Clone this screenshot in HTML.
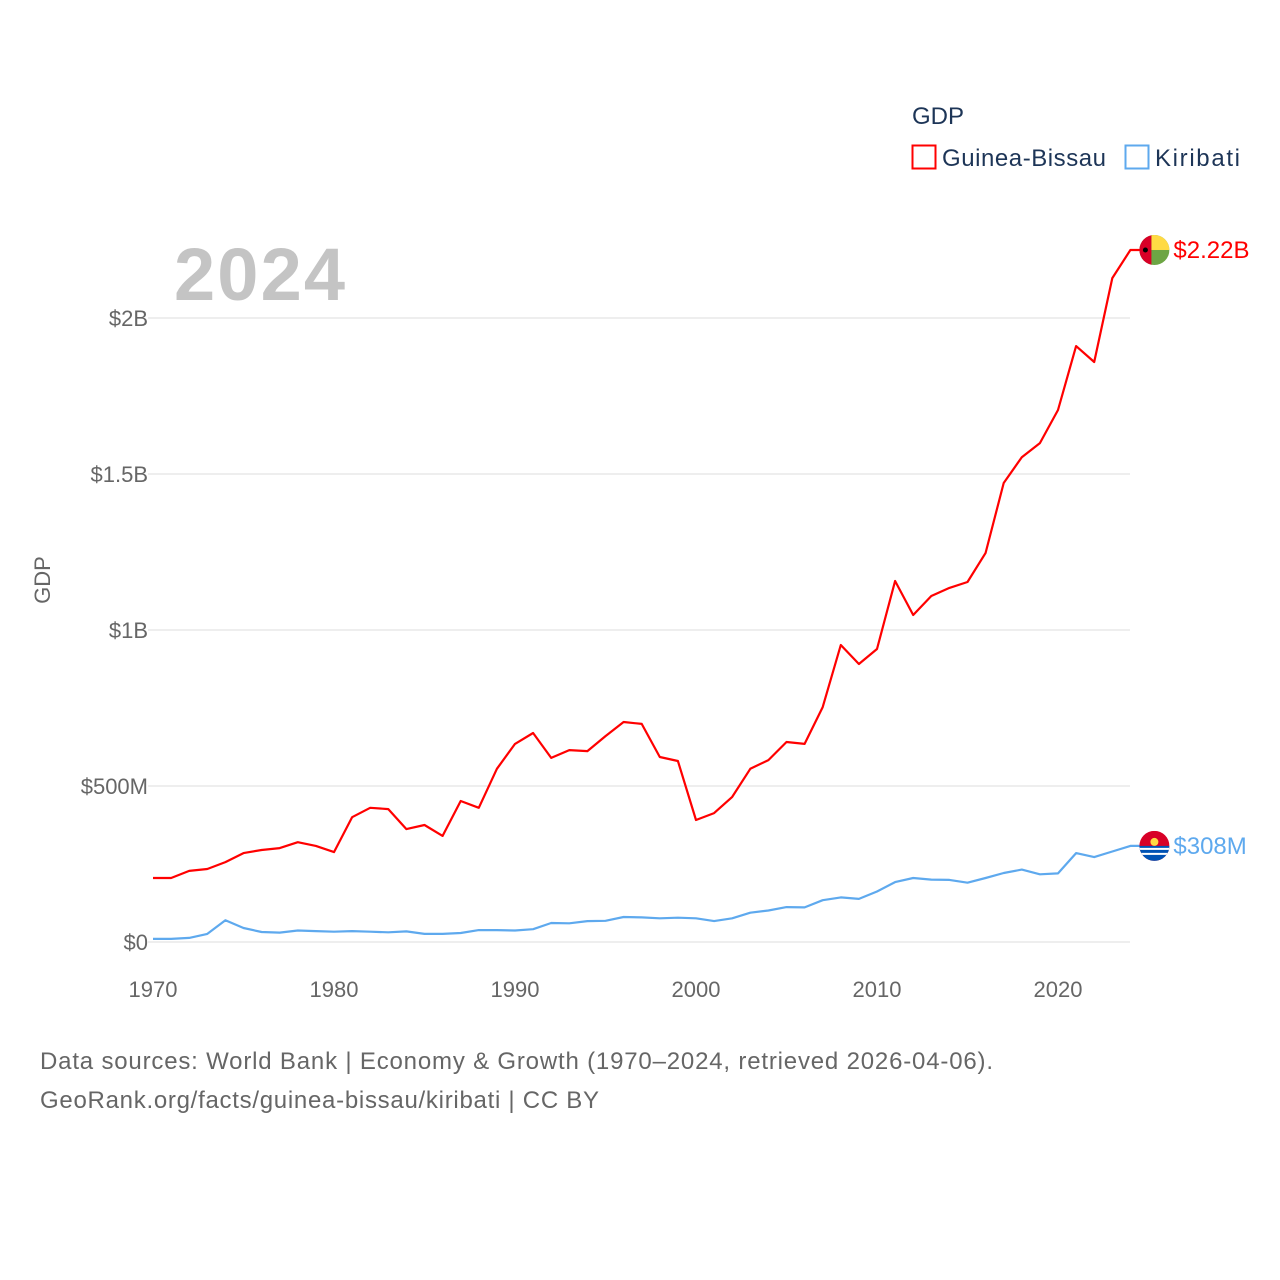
<!DOCTYPE html>
<html><head><meta charset="utf-8"><style>
html,body{margin:0;padding:0;background:#fff;}
body{width:1280px;height:1280px;position:relative;overflow:hidden;font-family:"Liberation Sans",sans-serif;}
</style></head><body>
<svg id="chart" width="1280" height="1280" xmlns="http://www.w3.org/2000/svg" style="position:absolute;left:0;top:0">
<text x="912" y="124" font-size="24" fill="#1d3557">GDP</text>
<g>
<rect x="912.5" y="145.5" width="23" height="23" fill="none" stroke="#ff0000" stroke-width="2"/>
<text x="942" y="166" font-size="24" fill="#1d3557" textLength="164">Guinea-Bissau</text></g>
<g>
<rect x="1125.5" y="145.5" width="23" height="23" fill="none" stroke="#5ea9ee" stroke-width="2"/>
<text x="1155" y="166" font-size="24" fill="#1d3557" textLength="85">Kiribati</text></g>
<text x="174" y="300" font-size="74" font-weight="bold" fill="#c4c4c4" textLength="171">2024</text>
<text transform="translate(50,580) rotate(-90)" text-anchor="middle" font-size="22" fill="#666">GDP</text>
<g id="grid"></g><g id="yticks"></g><g id="xticks"></g><g id="lines"></g>
<text x="40" y="1069" font-size="24" fill="#666" textLength="953">Data sources: World Bank | Economy &amp; Growth (1970–2024, retrieved 2026-04-06).</text>
<text x="40" y="1108" font-size="24" fill="#666" textLength="559">GeoRank.org/facts/guinea-bissau/kiribati | CC BY</text>
</svg>
<script>
const years=[];for(let y=1970;y<=2024;y++)years.push(y);
const guineaBissau=[205,205,228,234,256,285,295,301,320,308,288,400,430,426,362,375,340,452,430,555,635,670,590,615,612,660,705,699,593,580,391,413,465,555,583,641,635,753,952,891,939,1157,1048,1109,1135,1154,1247,1471,1554,1599,1705,1910,1859,2128,2218];
const kiribati=[10,10,13,26,70,45,32,30,37,35,33,35,33,31,34,26,26,29,38,38,37,41,61,60,67,68,80,79,76,78,76,67,76,94,101,112,111,134,143,138,162,192,205,200,199,190,205,221,232,217,220,285,272,290,308];
const yTicks=[0,500,1000,1500,2000];
const yTickLabels=["$0","$500M","$1B","$1.5B","$2B"];
const xTicks=[1970,1980,1990,2000,2010,2020];
const endLabels=["$2.22B","$308M"];
const NS="http://www.w3.org/2000/svg";
const X=y=>153+(y-1970)*18.1;
const Y=v=>942-v*0.312;
function mk(t,a,p){const e=document.createElementNS(NS,t);for(const k in a)e.setAttribute(k,a[k]);p.appendChild(e);return e;}
const grid=document.getElementById('grid'),yt=document.getElementById('yticks'),xt=document.getElementById('xticks'),lines=document.getElementById('lines');
yTicks.forEach((v,i)=>{
 const l=mk('line',{x1:148,x2:1130,y1:Y(v),y2:Y(v),stroke:'#e8e8e8','stroke-width':1.5},grid);
 
 
 const t=mk('text',{x:148,y:Y(v)+8,'text-anchor':'end','font-size':22,fill:'#666'},yt);
 t.textContent=yTickLabels[i];
 
 
});
xTicks.forEach(v=>{
 const t=mk('text',{x:X(v),y:997,'text-anchor':'middle','font-size':22,fill:'#666'},xt);
 t.textContent=v;
 
 
});
function series(data,color,name,label,flag){
 const d=data.map((v,i)=>(i?'L':'M')+X(years[i]).toFixed(1)+','+Y(v).toFixed(1)).join('');
 const p=mk('path',{d:d+'L'+(X(2024)+12)+','+Y(data[data.length-1]).toFixed(1),fill:'none',stroke:color,'stroke-width':2.2,'stroke-linejoin':'round'},lines);
 
 
 const cy=Y(data[data.length-1]),cx=X(2024)+24;
 const g=mk('g',{},lines);
 
 
 g.innerHTML=flag(cx,cy);
 const t=mk('text',{x:cx+19,y:cy+8,'font-size':24,fill:color},lines);
 t.textContent=label;
 
 
}
series(guineaBissau,'#ff0000','guinea-bissau',endLabels[0],(cx,cy)=>`<clipPath id="c1"><circle cx="${cx}" cy="${cy}" r="15"/></clipPath><g clip-path="url(#c1)"><rect x="${cx-15}" y="${cy-15}" width="30" height="30" fill="#6da544"/><rect x="${cx-3}" y="${cy-15}" width="18" height="15" fill="#ffda44"/><rect x="${cx-15}" y="${cy-15}" width="12" height="30" fill="#d80027"/><circle cx="${cx-9}" cy="${cy}" r="2.5" fill="#000"/></g>`);
series(kiribati,'#5ea9ee','kiribati',endLabels[1],(cx,cy)=>`<clipPath id="c2"><circle cx="${cx}" cy="${cy}" r="15"/></clipPath><g clip-path="url(#c2)"><rect x="${cx-15}" y="${cy-15}" width="30" height="30" fill="#d80027"/><rect x="${cx-15}" y="${cy}" width="30" height="15" fill="#0052b4"/><path d="M${cx-15},${cy+3}h30M${cx-15},${cy+8}h30" stroke="#fff" stroke-width="2"/><circle cx="${cx}" cy="${cy-4}" r="4" fill="#ffda44"/></g>`);
</script>
</body></html>
